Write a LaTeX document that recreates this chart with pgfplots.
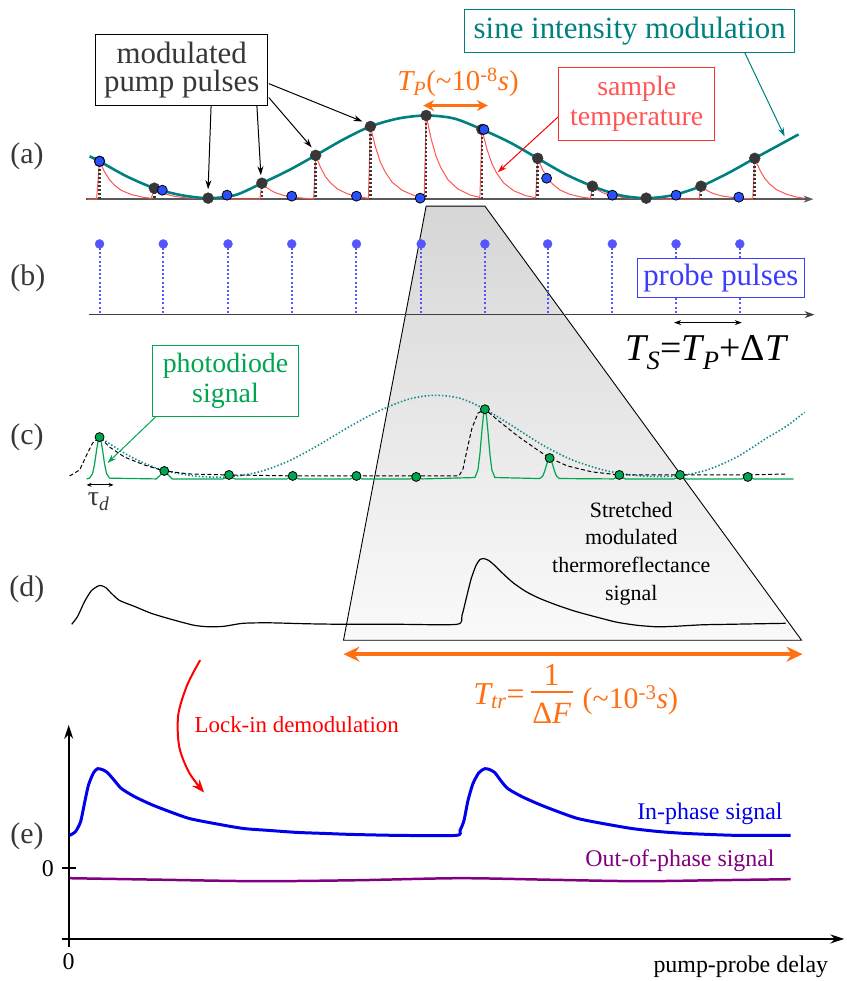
\documentclass[border=0pt]{standalone}
\usepackage{pgfplots}
\pgfplotsset{compat=1.18}
\usepackage{fontspec}
\setmainfont{Liberation Serif}
\usetikzlibrary{arrows.meta}

\definecolor{tealS}{RGB}{0,128,128}
\definecolor{redT}{RGB}{255,85,85}
\definecolor{redB}{RGB}{245,50,50}
\definecolor{orangeT}{RGB}{255,112,20}
\definecolor{greenP}{RGB}{0,165,80}
\definecolor{blueP}{RGB}{60,60,255}
\definecolor{blueL}{RGB}{85,85,255}
\definecolor{blueD}{RGB}{40,80,255}
\definecolor{darkg}{RGB}{55,55,55}
\definecolor{inph}{RGB}{0,0,235}
\definecolor{outph}{RGB}{128,0,128}

\newcommand{\fs}[2]{\fontsize{#1}{#2}\selectfont}

\begin{document}
\begin{tikzpicture}
\begin{axis}[
  width=850pt, height=981pt, scale only axis,
  xmin=0, xmax=850, ymin=0, ymax=981, y dir=reverse,
  hide axis, clip=false,
]
\addplot[draw=none, forget plot] coordinates {(0,0) (850,981)};

% stretching trapezoid
\addplot[draw=black, line width=0.9pt, top color=black!16, bottom color=black!2]
  coordinates {(428,207) (487,207) (805,643) (345,643) (428,207)};

% ---------------- (a) ----------------
\addplot[black!65, line width=1.5pt, -{Stealth[length=10pt,width=7pt]}]
  coordinates {(86,200) (817,200)};
% sample temperature
\addplot[redT, line width=1pt] coordinates {
 (88,200) (97,200) (100,162) (105,172.6) (110,180.6) (115,185.9) (122,191.3) (132,195.4) (144,198.1) (152,199.2)
 (155,189) (160,192.1) (165,194.4) (170,195.9) (177,197.5) (187,198.7) (199,199.5) (209,199.6) (240,200) (261,200)
 (263,184) (268,188.5) (273,191.8) (278,194.1) (285,196.3) (295,198.1) (307,199.2) (315,199.7)
 (317,156) (322,168.3) (327,177.6) (332,183.7) (339,189.9) (349,194.7) (361,197.8) (370,199.1)
 (372,127) (377,147.4) (382,162.8) (387,173) (394,183.2) (404,191.2) (416,196.4) (426,198.5)
 (428,116) (433,139.5) (438,157.2) (443,168.9) (450,180.7) (460,189.9) (472,195.8) (482,198.3)
 (484,130) (489,149.6) (494,164.3) (499,174.1) (506,183.9) (516,191.6) (528,196.5) (538,198.6)
 (540,159) (545,170.5) (550,179.1) (555,184.8) (562,190.6) (572,195.1) (584,197.9) (593,199.2)
 (595,187) (600,190.6) (605,193.4) (610,195.2) (617,197) (627,198.4) (639,199.4) (649,199.7) (680,200) (702,200)
 (704,187) (709,190.6) (714,193.4) (719,195.2) (726,197) (736,198.4) (748,199.4) (756,199.7)
 (758,159) (763,170.5) (768,179.1) (773,184.8) (780,190.6) (790,195.1) (800,197.9) (807,199)};
% pump drop lines
\addplot[darkg, line width=2.5pt, dash pattern=on 2pt off 2pt, unbounded coords=jump] coordinates {
 (100,162) (100,200) (100,nan) (155,189) (155,200) (155,nan) (263,184) (263,200) (263,nan)
 (317,156) (317,200) (317,nan) (372,127) (372,200) (372,nan) (428,116) (428,200) (428,nan)
 (484,130) (484,200) (484,nan) (540,159) (540,200) (540,nan) (595,187) (595,200) (595,nan)
 (704,187) (704,200) (704,nan) (758,159) (758,200)};
% sine modulation
\addplot[tealS, line width=2.6pt, smooth] coordinates {
 (90,157) (100,162) (127,177) (155,189) (182,196) (209,199) (236,196) (263,184) (290,171) (317,156)
 (345,140) (372,127) (400,119) (428,116) (456,119) (484,130) (512,143) (540,159) (568,175) (595,187)
 (622,196) (649,199) (676,196) (704,187) (731,174) (758,159) (780,147) (802,135)};
% pump pulses
\addplot[only marks, mark=*, mark size=5.5pt, mark options={fill=darkg, draw=darkg}] coordinates {
 (100,162) (155,189) (209,199) (263,184) (317,156) (372,127) (428,116) (484,130) (540,159) (595,187) (649,199) (704,187) (758,159)};
% probe samples
\addplot[only marks, mark=*, mark size=5pt, mark options={fill=blueD, draw=black, line width=0.8pt}] coordinates {
 (100,162) (163,191) (228,196) (293,197) (358,197) (422,199) (486,130) (549,179) (615,196) (679,196) (742,198)};

% arrows (a)
\addplot[black, line width=1pt, -{Stealth[length=9pt,width=6pt]}] coordinates {(212,106) (209,190)};
\addplot[black, line width=1pt, -{Stealth[length=9pt,width=6pt]}] coordinates {(258,106) (262,176)};
\addplot[black, line width=1pt, -{Stealth[length=9pt,width=6pt]}] coordinates {(270,98) (313,148)};
\addplot[black, line width=1pt, -{Stealth[length=9pt,width=6pt]}] coordinates {(270,84) (364,122)};
\addplot[tealS, line width=1pt, -{Stealth[length=9pt,width=6pt]}] coordinates {(748,53) (788,137)};
\addplot[red, line width=1pt, -{Stealth[length=9pt,width=6pt]}] coordinates {(561,117) (500,173)};
\addplot[orangeT, line width=3pt, {Stealth[length=11pt,width=11pt]}-{Stealth[length=11pt,width=11pt]}] coordinates {(425,106) (490,106)};

% ---------------- (b) ----------------
\addplot[black!75, line width=1.3pt, -{Stealth[length=10pt,width=7pt]}] coordinates {(89,316) (818,316)};
\addplot[blueL, line width=2pt, dash pattern=on 2pt off 2.2pt, unbounded coords=jump] coordinates {
 (100,245) (100,316) (100,nan) (164,245) (164,316) (164,nan) (229,245) (229,316) (229,nan)
 (293,245) (293,316) (293,nan) (358,245) (358,316) (358,nan) (423,245) (423,316) (423,nan)
 (487,245) (487,316) (487,nan) (550,245) (550,316) (550,nan) (615,245) (615,316) (615,nan)
 (679,245) (679,316) (679,nan) (743,245) (743,316)};
\addplot[only marks, mark=*, mark size=4.5pt, mark options={fill=blueL, draw=blueL}] coordinates {
 (100,245) (164,245) (229,245) (293,245) (358,245) (423,245) (487,245) (550,245) (615,245) (679,245) (743,245)};
\addplot[black, line width=1pt, {Stealth[length=7pt,width=5pt]}-{Stealth[length=7pt,width=5pt]}] coordinates {(677,324) (745,324)};

% ---------------- (c) ----------------
\addplot[tealS!90, line width=1.6pt, dash pattern=on 1.5pt off 2pt, smooth] coordinates {
 (100,439) (130,458) (160,471) (195,478) (228,479) (260,474) (290,463) (320,447) (350,429) (380,413)
 (410,401) (436,397) (462,400) (487,411) (515,428) (545,447) (575,462) (610,473) (645,478) (680,478)
 (710,472) (740,459) (770,440) (790,428) (808,414)};
\addplot[black, line width=1pt, dash pattern=on 4pt off 2.5pt] coordinates {
 (70,478) (80,472) (87,457) (93,445) (100,439) (110,449) (125,459) (145,467) (165,473) (190,476)
 (230,477) (300,478) (360,478) (420,478) (461,478) (465,471) (469,452) (474,430) (480,415) (487,411)
 (500,422) (520,438) (540,452) (552,460) (570,468) (595,474) (622,477) (683,477) (750,477) (791,476)};
\addplot[greenP, line width=1.2pt] coordinates {
 (87,481) (90,480.2) (93,475.5) (95,465.9) (97,452) (98.5,442.8) (100,439) (101.5,442.8) (103,452) (105,465.9) (107,475.5) (110,480.2)
 (157,481) (160,478.1) (162.5,475.6) (165,473) (167.5,475.6) (170,478.1) (173,481)
 (224,481) (227,479.5) (230,477) (233,479.5) (236,481)
 (288,481) (291,479.5) (294,478) (297,479.5) (300,481)
 (352,481) (355,479.5) (358,478) (361,479.5) (364,481)
 (412,481) (415,480) (418,479) (421,480) (424,481)
 (477,479.6) (480,471.9) (482,455.8) (484,432.7) (485.5,417.3) (487,411) (488.5,417.3) (490,432.7) (492,455.8) (494,471.9) (497,479.6)
 (542,480.6) (545,478.3) (547,473.4) (549,466.5) (550.5,461.9) (552,460) (553.5,461.9) (555,466.5) (557,473.4) (559,478.3) (562,480.6)
 (616,481) (619,479.5) (622,477) (625,479.5) (628,481)
 (677,481) (680,479.5) (683,477) (686,479.5) (689,481)
 (745,481) (748,480) (751,479) (754,480) (757,481) (797,481)};
\addplot[only marks, mark=*, mark size=4.5pt, mark options={fill=greenP, draw=black, line width=0.8pt}] coordinates {
 (100,439) (165,473) (230,477) (294,478) (358,478) (418,479) (487,411) (552,460) (622,477) (683,477) (751,479)};
\addplot[greenP, line width=1pt, -{Stealth[length=9pt,width=6pt]}] coordinates {(157,418) (108,465)};
\addplot[black, line width=1pt, {Stealth[length=5pt,width=4pt]}-{Stealth[length=5pt,width=4pt]}] coordinates {(87,487) (114,487)};

% ---------------- (d) ----------------
\addplot[black, line width=1.2pt, smooth, tension=0.4] coordinates {
 (72,627) (78,619) (85,604) (92,593) (100,588) (106,590) (112,596) (120,603) (135,609) (152,616) (172,622)
 (195,628) (210,629.5) (225,629) (244,626) (270,625.5) (310,626.5) (347,627) (400,627) (459,627)
 (464,618) (468,602) (473,582) (478,568) (482,562) (486,561) (491,563) (497,568) (504,575) (515,585)
 (528,594) (542,601) (560,608) (578,614) (600,620) (620,625) (640,628) (660,629.5) (678,629)
 (705,627.5) (732,627) (760,626.5) (789,626)};
\addplot[orangeT, line width=3.5pt, {Stealth[length=16pt,width=15pt]}-{Stealth[length=16pt,width=15pt]}] coordinates {(345,657) (806,657)};
% fraction bar of T_tr
\addplot[orangeT, line width=1.8pt] coordinates {(533,695) (575,695)};

% lock-in arrow
\addplot[red, line width=2pt, smooth, -{Stealth[length=13pt,width=10pt]}] coordinates {
 (201,663) (188,688) (179,718) (180,750) (190,776) (205,796)};

% ---------------- (e) ----------------
\addplot[black, line width=2.2pt, -{Stealth[length=14pt,width=9pt]}] coordinates {(69,951) (69,728)};
\addplot[black, line width=2.2pt, -{Stealth[length=14pt,width=9pt]}] coordinates {(62,943) (848,943)};
\addplot[black, line width=2.5pt] coordinates {(62,872) (76,872)};
\addplot[inph, line width=3pt, smooth, tension=0.4] coordinates {
 (70,839) (76,835) (81,825) (85,806) (89,788) (94,776) (98,772) (103,773) (108,776) (115,784) (122,792)
 (135,800) (152,808) (170,815) (190,822) (215,827) (244,832) (270,834) (298,836) (325,837) (352,838)
 (400,839) (458,839) (462,834) (466,824) (470,804) (475,787) (481,776) (487,772) (492,773) (497,776)
 (503,784) (510,792) (524,800) (542,808) (560,815) (580,822) (605,827) (634,832) (660,835) (688,837)
 (740,839) (794,839)};
\addplot[outph, line width=2.5pt, smooth] coordinates {
 (70,882) (160,883.5) (260,885) (360,884) (461,882) (550,883.5) (640,885) (720,884) (794,883)};

% ---------------- texts ----------------
\node[text=darkg, font=\fs{30}{30}] at (axis cs:27,157) {(a)};
\node[text=darkg, font=\fs{30}{30}] at (axis cs:28,280) {(b)};
\node[text=darkg, font=\fs{30}{30}] at (axis cs:27,439) {(c)};
\node[text=darkg, font=\fs{30}{30}] at (axis cs:27,592) {(d)};
\node[text=darkg, font=\fs{30}{30}] at (axis cs:27,840) {(e)};

\node[draw=black, line width=1pt, fill=white, text=darkg, align=center, inner sep=0pt,
  minimum width=173pt, minimum height=71pt, font=\fs{31}{28}] at (axis cs:182.5,70.5) {modulated\\pump pulses};
\node[draw=tealS, line width=1pt, fill=white, text=tealS, inner sep=0pt,
  minimum width=331pt, minimum height=43pt, font=\fs{31}{28}] at (axis cs:632.5,31.5) {sine intensity modulation};
\node[draw=redB, line width=1pt, fill=white, text=redT, align=center, inner sep=0pt,
  minimum width=157pt, minimum height=73pt, font=\fs{28}{30}] at (axis cs:639.5,104.5) {sample\\temperature};
\node[text=orangeT, font=\fs{29}{30}, anchor=base] at (axis cs:460,91)
  {{\itshape T}\textsubscript{\itshape P}(\textasciitilde10\textsuperscript{-8}{\itshape s})};

\node[draw=blueP, line width=1pt, fill=white, text=blueP, inner sep=0pt,
  minimum width=168pt, minimum height=39pt, font=\fs{31}{30}] at (axis cs:724,279.5) {probe pulses};
\node[text=black, font=\fs{38}{38}, anchor=base] at (axis cs:709,362)
  {{\itshape T}\textsubscript{\itshape S}={\itshape T}\textsubscript{\itshape P}+Δ{\itshape T}};

\node[draw=greenP, line width=1pt, fill=white, text=greenP, align=center, inner sep=0pt,
  minimum width=147pt, minimum height=71pt, font=\fs{28}{30}] at (axis cs:226.5,382.5) {photodiode\\signal};
\node[text=darkg, font=\fs{28}{28}, anchor=base] at (axis cs:99,508) {τ\textsubscript{\itshape d}};

\node[text=black, align=center, font=\fs{22}{28}] at (axis cs:634,556) {Stretched\\modulated\\thermoreflectance\\signal};

\node[text=orangeT, font=\fs{32}{32}, anchor=base east, inner sep=0pt] at (axis cs:527,708)
  {{\itshape T}\textsubscript{\itshape tr}=};
\node[text=orangeT, font=\fs{32}{32}, anchor=base, inner sep=0pt] at (axis cs:554,688) {1};
\node[text=orangeT, font=\fs{31}{32}, anchor=base, inner sep=0pt] at (axis cs:554,727) {Δ{\itshape F}};
\node[text=orangeT, font=\fs{30}{32}, anchor=base west, inner sep=0pt] at (axis cs:585,712)
  {(\textasciitilde10\textsuperscript{-3}{\itshape s})};

\node[text=red, font=\fs{23}{24}] at (axis cs:298,728) {Lock-in demodulation};
\node[text=inph, font=\fs{24}{24}] at (axis cs:713,817) {In-phase signal};
\node[text=outph, font=\fs{24}{24}] at (axis cs:683,864) {Out-of-phase signal};
\node[text=black, font=\fs{24}{24}] at (axis cs:48,872) {0};
\node[text=black, font=\fs{24}{24}] at (axis cs:69,966) {0};
\node[text=black, font=\fs{24}{24}] at (axis cs:744,971) {pump-probe delay};
\end{axis}
\end{tikzpicture}
\end{document}
